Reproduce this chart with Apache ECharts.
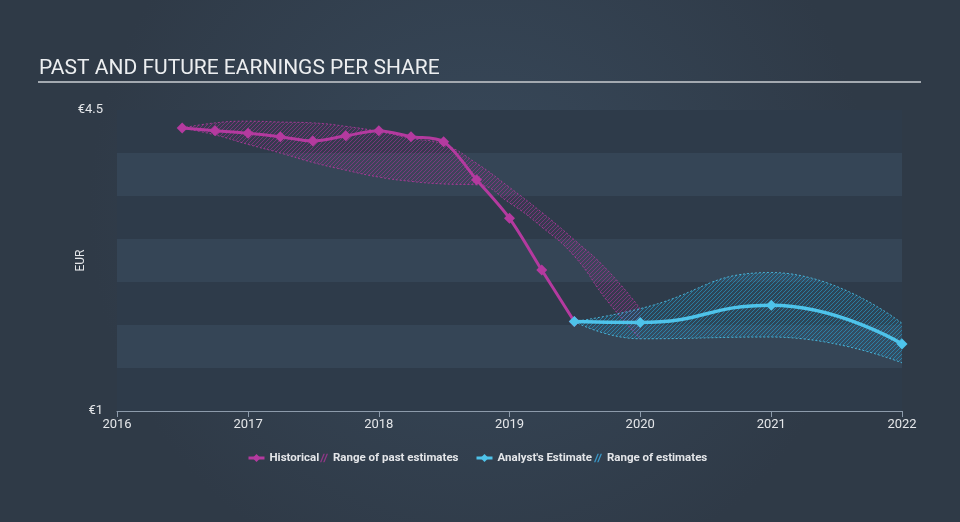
<!DOCTYPE html>
<html>
<head>
<meta charset="utf-8">
<script src="https://cdn.jsdelivr.net/npm/echarts@6/dist/echarts.min.js"></script>
<style>
html,body{margin:0;padding:0;background:#333f4d;}
#chart{width:960px;height:522px;}
</style>
</head>
<body>
<div id="chart"></div>
<script>
// ---- data ----
const titleText = 'PAST AND FUTURE EARNINGS PER SHARE';
const yAxisName = 'EUR';
const xMin = '2016-01-01', xMax = '2022-01-01';
const yMin = 1, yMax = 4.5;

const histDates = ['2016-07-01','2016-10-01','2017-01-01','2017-04-01','2017-07-01','2017-10-01','2018-01-01','2018-04-01','2018-07-01','2018-10-01','2019-01-01','2019-04-01','2019-07-01'];
const histEPS   = [4.29, 4.26, 4.23, 4.19, 4.14, 4.20, 4.26, 4.19, 4.13, 3.69, 3.24, 2.64, 2.04];

const pastRangeDates = ['2016-07-01','2016-10-01','2017-01-01','2017-04-01','2017-07-01','2017-10-01','2018-01-01','2018-04-01','2018-07-01','2018-10-01','2019-01-01','2019-04-01','2019-07-01','2019-10-01','2020-01-01'];
const pastRangeLow   = [4.29, 4.21, 4.10, 4.00, 3.89, 3.80, 3.72, 3.67, 3.64, 3.63, 3.42, 3.14, 2.80, 2.28, 1.84];
const pastRangeHigh  = [4.29, 4.35, 4.37, 4.36, 4.35, 4.31, 4.25, 4.17, 4.10, 3.88, 3.60, 3.31, 2.99, 2.64, 2.19];

const estDates = ['2019-07-01','2020-01-01','2021-01-01','2022-01-01'];
const estEPS   = [2.04, 2.03, 2.23, 1.78];
const estLow   = [2.04, 1.84, 1.86, 1.56];
const estHigh  = [2.04, 2.19, 2.61, 2.02];

const legendNames = ['Historical', 'Range of past estimates', "Analyst's Estimate", 'Range of estimates'];

// ---- helpers ----
const t = s => Date.UTC(+s.slice(0, 4), +s.slice(5, 7) - 1, +s.slice(8, 10));
const pair = (xs, ys) => xs.map((x, i) => [t(x), ys[i]]);
const diff = (xs, lo, hi) => xs.map((x, i) => [t(x), +(hi[i] - lo[i]).toFixed(3)]);

// ---- styles ----
const magenta = '#b43a9f';
const cyan = '#4ec3ea';
const textColor = '#e4e6e9';

function hatch(color, bg) {
  const s = 4;
  const c = document.createElement('canvas');
  c.width = s; c.height = s;
  const ctx = c.getContext('2d');
  if (bg) { ctx.fillStyle = bg; ctx.fillRect(0, 0, s, s); }
  ctx.strokeStyle = color;
  ctx.lineWidth = 1;
  ctx.beginPath();
  ctx.moveTo(-1, s + 1); ctx.lineTo(s + 1, -1);
  ctx.moveTo(-1, 1); ctx.lineTo(1, -1);
  ctx.moveTo(s - 1, s + 1); ctx.lineTo(s + 1, s - 1);
  ctx.stroke();
  return c;
}

const hatchIcon = 'path://M0,10L4,0L5.6,0L1.6,10Z M3.6,10L7.6,0L9.2,0L5.2,10Z';

const legendBase = {
  top: 452, itemHeight: 10, selectedMode: false, padding: 0,
  textStyle: { color: textColor, fontSize: 11.5, fontWeight: 'bold', fontFamily: 'Roboto' },
  lineStyle: { width: 3 }
};

const chart = echarts.init(document.getElementById('chart'), null, { renderer: 'canvas' });
chart.setOption({
  useUTC: true,
  backgroundColor: {
    type: 'radial', x: 0.5, y: 0.4, r: 0.75,
    colorStops: [{ offset: 0, color: '#38495b' }, { offset: 1, color: '#2f3a47' }]
  },
  animation: false,
  title: {
    text: titleText, left: 34, top: 53,
    textStyle: { color: '#eceef0', fontSize: 21, fontWeight: 'normal', fontFamily: 'Roboto' }
  },
  graphic: [{
    type: 'line', shape: { x1: 38, y1: 82, x2: 921, y2: 82 },
    style: { stroke: '#a3a9b0', lineWidth: 2 }, silent: true
  }],
  legend: [
    Object.assign({}, legendBase, { left: 247, itemWidth: 16, data: [{ name: legendNames[0] }] }),
    Object.assign({}, legendBase, { left: 320, itemWidth: 8, data: [{ name: legendNames[1], icon: hatchIcon }] }),
    Object.assign({}, legendBase, { left: 475, itemWidth: 16, data: [{ name: legendNames[2] }] }),
    Object.assign({}, legendBase, { left: 594, itemWidth: 8, data: [{ name: legendNames[3], icon: hatchIcon }] })
  ],
  grid: { left: 117, right: 58, top: 110, bottom: 111, containLabel: false },
  xAxis: {
    type: 'time', min: t(xMin), max: t(xMax), splitNumber: 6,
    minInterval: 365 * 86400000,
    axisLine: { show: true, lineStyle: { color: '#8d9bab', width: 1 } },
    axisTick: { show: true, length: 6, lineStyle: { color: '#8d9bab' } },
    axisLabel: {
      color: textColor, fontSize: 13, fontFamily: 'Roboto', margin: 7, hideOverlap: false,
      showMinLabel: true, showMaxLabel: true,
      formatter: v => String(new Date(v).getUTCFullYear())
    },
    splitLine: { show: false }
  },
  yAxis: {
    type: 'value', min: yMin, max: yMax, interval: 0.5,
    name: yAxisName, nameLocation: 'middle', nameGap: 30, nameMoveOverlap: false,
    nameTextStyle: { color: textColor, fontSize: 12, fontFamily: 'Roboto' },
    axisLine: { show: false }, axisTick: { show: false },
    axisLabel: {
      color: textColor, fontSize: 13, fontFamily: 'Roboto', margin: 14,
      formatter: v => (v === yMin || v === yMax) ? '€' + v : ''
    },
    splitLine: { show: false },
    splitArea: { show: true, areaStyle: { color: ['#2e3b4a', '#354556'] } }
  },
  series: [
    {
      name: 'pastLow', type: 'line', stack: 'past', smooth: true, symbol: 'none', silent: true, z: 1,
      data: pair(pastRangeDates, pastRangeLow),
      lineStyle: { color: magenta, width: 1, type: [2, 2], opacity: 0.85 }
    },
    {
      name: legendNames[1], type: 'line', stack: 'past', smooth: true, symbol: 'none', silent: true, z: 1,
      data: diff(pastRangeDates, pastRangeLow, pastRangeHigh),
      itemStyle: { color: 'rgba(160,55,145,0.85)' },
      lineStyle: { color: magenta, width: 1, type: [2, 2], opacity: 0.85 },
      areaStyle: { color: { image: hatch('rgba(165,50,150,0.6)', 'rgba(165,50,150,0.07)'), repeat: 'repeat' }, opacity: 1 }
    },
    {
      name: 'estLow', type: 'line', stack: 'est', smooth: true, symbol: 'none', silent: true, z: 1,
      data: pair(estDates, estLow),
      lineStyle: { color: cyan, width: 1, type: [2, 2], opacity: 0.85 }
    },
    {
      name: legendNames[3], type: 'line', stack: 'est', smooth: true, symbol: 'none', silent: true, z: 1,
      data: diff(estDates, estLow, estHigh),
      itemStyle: { color: 'rgba(60,160,210,0.9)' },
      lineStyle: { color: cyan, width: 1, type: [2, 2], opacity: 0.85 },
      areaStyle: { color: { image: hatch('rgba(40,160,210,0.6)', 'rgba(40,160,210,0.1)'), repeat: 'repeat' }, opacity: 1 }
    },
    {
      name: legendNames[0], type: 'line', smooth: 0.3, z: 3,
      data: pair(histDates, histEPS),
      symbol: 'diamond', symbolSize: 11, showAllSymbol: true,
      itemStyle: { color: magenta },
      lineStyle: { color: magenta, width: 3 }
    },
    {
      name: legendNames[2], type: 'line', smooth: true, z: 4,
      data: pair(estDates, estEPS),
      symbol: 'diamond', symbolSize: 11, showAllSymbol: true,
      itemStyle: { color: cyan },
      lineStyle: { color: cyan, width: 3.5 }
    }
  ]
});
</script>
</body>
</html>
